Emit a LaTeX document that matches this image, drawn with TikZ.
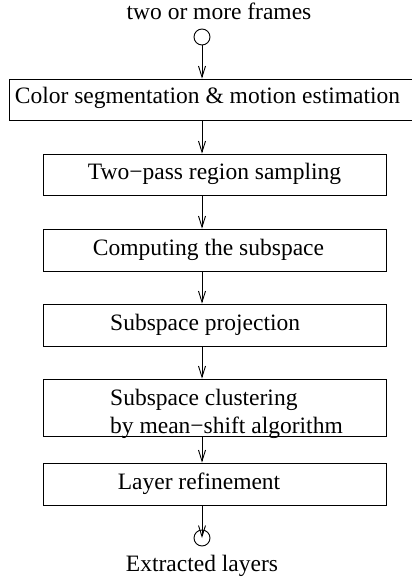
\documentclass[tikz,border=0pt]{standalone}
\usepackage{fontspec}
\setmainfont{Liberation Serif}
\usetikzlibrary{arrows.meta}
\tikzset{
  box/.style={draw, line width=0.9bp, rectangle, inner sep=0pt},
  ring/.style={draw, line width=0.9bp, circle, inner sep=0pt, minimum size=16bp},
  txt/.style={inner sep=0pt, font=\fontsize{23.5bp}{28bp}\selectfont},
  flow/.style={line width=0.9bp, -{Straight Barb[length=11bp,width=7bp,line width=0.9bp]}}
}
\begin{document}
\begin{tikzpicture}[x=1bp,y=-1bp]
\useasboundingbox (0,0) rectangle (411,579);
% circles
\node[ring] (c1) at (202,37) {};
\node[ring] (c2) at (202,538) {};
% boxes
\node[box, minimum width=403bp, minimum height=41bp] (b1) at (210.5,99.5) {};
\node[box, minimum width=343bp, minimum height=41bp] (b2) at (214.5,174.5) {};
\node[box, minimum width=343bp, minimum height=42bp] (b3) at (214.5,250) {};
\node[box, minimum width=343bp, minimum height=42bp] (b4) at (214.5,325) {};
\node[box, minimum width=343bp, minimum height=57bp] (b5) at (214.5,407.5) {};
\node[box, minimum width=343bp, minimum height=42bp] (b6) at (214.5,484) {};
% texts
\node[txt, anchor=base] (t0) at (219,20) {two or more frames};
\node[txt, anchor=base] (t1) at (207.5,104) {Color segmentation \& motion estimation};
\node[txt, anchor=base] (t2) at (214.5,179) {Two−pass region sampling};
\node[txt, anchor=base] (t3) at (208.5,255) {Computing the subspace};
\node[txt, anchor=base west] (t4) at (110,330) {Subspace projection};
\node[txt, anchor=base west] (t5a) at (110,405) {Subspace clustering};
\node[txt, anchor=base west] (t5b) at (110,433) {by mean−shift algorithm};
\node[txt, anchor=base] (t6) at (199,489) {Layer refinement};
\node[txt, anchor=base] (t7) at (202,571) {Extracted layers};
% connectors
\draw[flow] (c1.south) -- (c1 |- b1.north);
\draw[flow] (b1.south -| c1) -- (b2.north -| c1);
\draw[flow] (b2.south -| c1) -- (b3.north -| c1);
\draw[flow] (b3.south -| c1) -- (b4.north -| c1);
\draw[flow] (b4.south -| c1) -- (b5.north -| c1);
\draw[flow] (b5.south -| c1) -- (b6.north -| c1);
\draw[flow] (b6.south -| c2) -- (c2.center);
\end{tikzpicture}
\end{document}
